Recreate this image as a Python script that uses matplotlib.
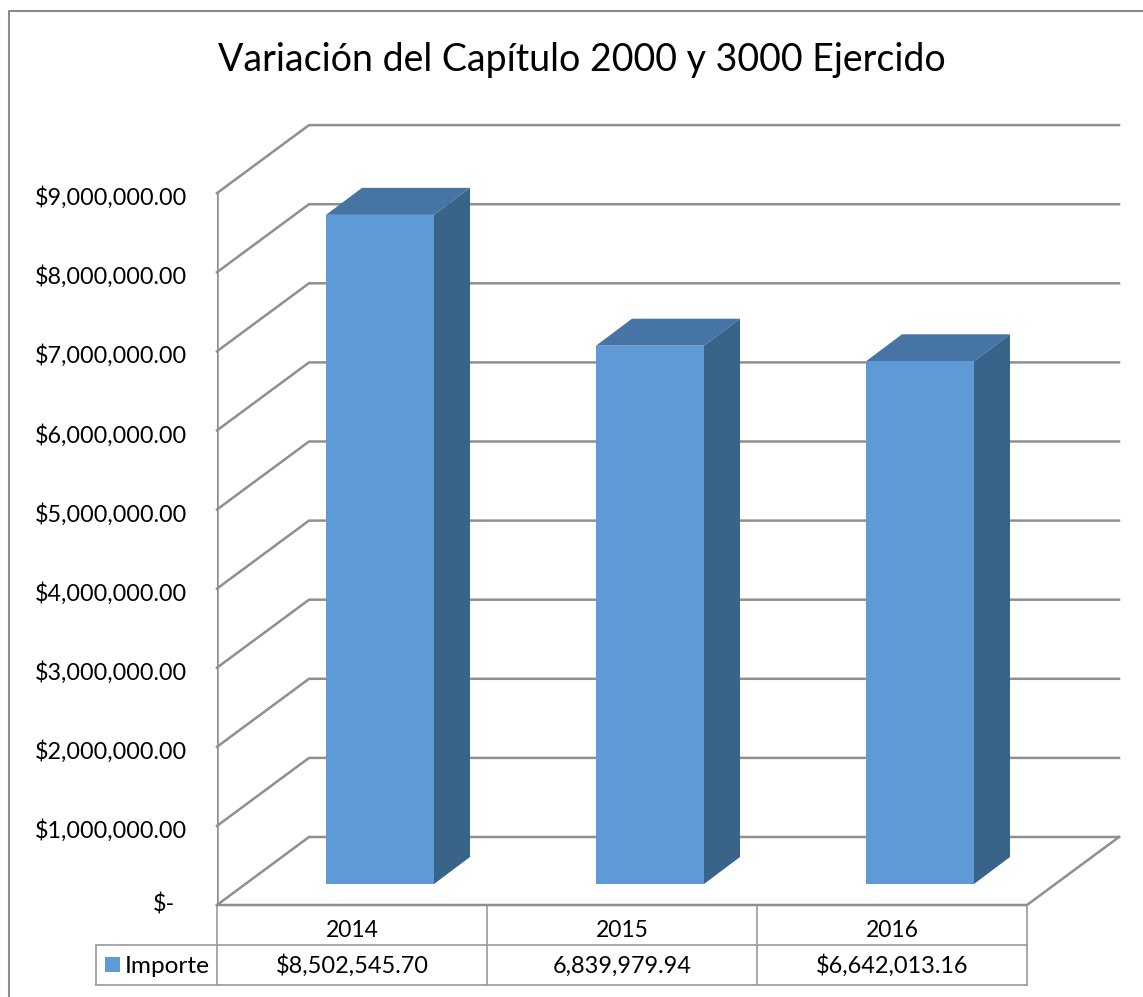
import matplotlib
matplotlib.use('Agg')
import matplotlib.pyplot as plt
from matplotlib.patches import Polygon, Rectangle

plt.rcParams['font.family'] = ['Lato', 'DejaVu Sans']

years = ['2014', '2015', '2016']
importe = [8502545.70, 6839979.94, 6642013.16]
importe_labels = ['$8,502,545.70', '6,839,979.94', '$6,642,013.16']
tick_values = [0, 1e6, 2e6, 3e6, 4e6, 5e6, 6e6, 7e6, 8e6, 9e6]
tick_labels = ['$-', '$1,000,000.00', '$2,000,000.00', '$3,000,000.00', '$4,000,000.00',
               '$5,000,000.00', '$6,000,000.00', '$7,000,000.00', '$8,000,000.00', '$9,000,000.00']

W, H = 1143, 997
GRID = '#8f8f8f'
FRONT = '#5e9bd6'
TOP = '#4675a5'
SIDE = '#39648a'


def px_axes(left, top, right, bottom, zorder):
    ax = fig.add_axes([left / W, 1 - bottom / H, (right - left) / W, (bottom - top) / H], zorder=zorder)
    ax.axis('off')
    ax.patch.set_alpha(0)
    return ax


fig = plt.figure(figsize=(W / 100, H / 100), dpi=100)

# capa de pixeles: marco, titulo y tabla
page = px_axes(0, 0, W, H, 0)
page.set_xlim(0, W)
page.set_ylim(H, 0)
page.plot([9, 9, W], [H, 11, 11], color='#8c8c8c', lw=1.5)
page.text(582, 71, 'Variación del Capítulo 2000 y 3000 Ejercido', fontsize=27, ha='center', va='baseline', color='black')

# tabla de datos
page.plot([96, 1027], [945, 945], color='#a0a0a0', lw=1.3)
page.plot([96, 1027], [985, 985], color='#a0a0a0', lw=1.3)
page.plot([96, 96], [945, 985], color='#a0a0a0', lw=1.3)
for x in [217, 487, 757, 1027]:
    page.plot([x, x], [905, 985], color='#a0a0a0', lw=1.3)
for i in range(len(years)):
    page.text(352 + 270 * i, 937, years[i], fontsize=16.5, ha='center', va='baseline')
    page.text(352 + 270 * i, 973, importe_labels[i], fontsize=16.9, ha='center', va='baseline')
page.add_patch(Rectangle((105, 957), 15, 15, facecolor=FRONT, edgecolor='none'))
page.text(125, 973, 'Importe', fontsize=17.6, ha='left', va='baseline')

# paredes: x en categorias, y en pesos
wall = px_axes(217, 905 - 79.1 * 10, 1027, 905, 1)
wall.set_xlim(0, 3)
wall.set_ylim(0, 10e6)
back_dx = 92 / 270
back_dy = 68 / 79.1 * 1e6
for v in tick_values:
    wall.plot([0, back_dx, 3 + back_dx], [v, v + back_dy, v + back_dy], color=GRID, lw=1.8, clip_on=False)
wall.plot([0, 0], [0, tick_values[-1]], color=GRID, lw=1.8)
wall.plot([0, 3, 3 + back_dx], [0, 0, back_dy], color=GRID, lw=1.8, clip_on=False)
for v, lab in zip(tick_values, tick_labels):
    if lab == '$-':
        wall.annotate(lab, (0, v), xytext=(-42, -6), textcoords='offset pixels', fontsize=16.8, ha='right', va='baseline')
    else:
        wall.annotate(lab, (0, v), xytext=(-30, -12), textcoords='offset pixels', fontsize=16.8, ha='right', va='baseline')

# barras: plano propio, desplazado sobre el piso
bars = px_axes(245, 884 - 78.7 * 10, 1055, 884, 2)
bars.set_xlim(0, 3)
bars.set_ylim(0, 10e6)
positions = [0.5, 1.5, 2.5]
bar_w = 0.4
dx = 36 / 270
dy = 27 / 78.7 * 1e6
bars.bar(positions, importe, width=bar_w, color=FRONT, edgecolor='none', zorder=3)
for p, v in zip(positions, importe):
    l = p - bar_w / 2
    r = p + bar_w / 2
    bars.add_patch(Polygon([(l, v), (r, v), (r + dx, v + dy), (l + dx, v + dy)], facecolor=TOP, edgecolor='none', zorder=2))
    bars.add_patch(Polygon([(r, 0), (r + dx, dy), (r + dx, v + dy), (r, v)], facecolor=SIDE, edgecolor='none', zorder=2))

fig.savefig('out.png', dpi=100, facecolor='white')
